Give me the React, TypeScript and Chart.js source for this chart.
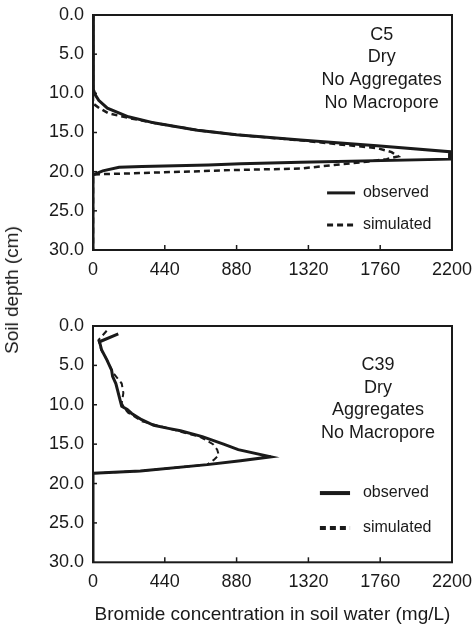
import React, { useEffect, useRef } from "react";
import { Chart, registerables } from "chart.js";

Chart.register(...registerables);

// ---------- data ----------
const xTicks = [0, 440, 880, 1320, 1760, 2200];
const yTicks = [0, 5, 10, 15, 20, 25, 30];

// Panel C5 (top)
const c5ObservedDepth = [0, 7.0, 8.5, 9.5, 10.2, 10.9, 11.9, 13.0, 13.8, 14.7, 15.3, 15.95, 16.7, 17.45, 18.4, 18.8, 19.0, 19.15, 19.35, 19.45, 19.9, 20.4, 30];
const c5ObservedConc = [0, 0, 2, 5, 14, 35, 88, 217, 380, 640, 880, 1272, 1740, 2185, 2185, 1272, 904, 707, 300, 160, 60, 0, 0];
const c5SimulatedDepth = [0, 10.0, 11.3, 11.9, 12.55, 13.2, 13.8, 14.7, 15.3, 16.0, 16.5, 17.0, 17.5, 18.05, 18.4, 18.7, 19.15, 19.6, 19.8, 19.95, 20.1, 20.25, 20.35, 30];
const c5SimulatedConc = [0, 0, 0, 40, 94, 230, 380, 640, 880, 1272, 1500, 1743, 1830, 1870, 1800, 1690, 1477, 1272, 843, 650, 400, 180, 0, 0];

// Panel C39 (bottom)
const c39ObservedDepth = [1.0, 2.0, 3.05, 4.3, 5.6, 6.4, 7.3, 8.1, 9.4, 10.2, 10.6, 11.1, 11.9, 12.6, 13.0, 13.3, 14.05, 15.0, 15.7, 16.6, 17.1, 17.6, 18.4, 18.7, 30];
const c39ObservedConc = [155, 40, 53, 85, 114, 120, 140, 150, 166, 176, 210, 237, 298, 372, 462, 536, 670, 800, 890, 1090, 904, 700, 290, 0, 0];
const c39SimulatedDepth = [0.6, 1.8, 3.0, 4.3, 6.0, 7.3, 8.5, 9.8, 10.5, 11.0, 11.5, 12.1, 13.0, 14.1, 15.0, 15.7, 16.4, 17.0, 17.6, 18.4, 18.7, 30];
const c39SimulatedConc = [84, 33, 50, 85, 125, 176, 186, 176, 195, 215, 255, 300, 462, 658, 735, 761, 771, 740, 700, 290, 0, 0];

const c5Labels = ["C5", "Dry", "No Aggregates", "No Macropore"];
const c39Labels = ["C39", "Dry", "Aggregates", "No Macropore"];
const legendLabels = ["observed", "simulated"];
const xTitle = "Bromide concentration in soil water (mg/L)";
const yTitle = "Soil depth (cm)";

// ---------- styling ----------
const FONT = '"Liberation Sans", Arial, Helvetica, sans-serif';
const INK = "#1a1a1a";

type Decor = {
  labels: string[];
  labelX: number;
  labelY: number[];
  legX0: number;
  legX1: number;
  legTextX: number;
  legY: number[];
  legWidth: number;
};

function decorPlugin(cfg: Decor) {
  return {
    id: "panelDecor",
    afterDatasetsDraw(chart: any) {
      const { ctx, chartArea: a, scales } = chart;
      const w = a.right - a.left;
      const h = a.bottom - a.top;
      ctx.save();
      ctx.strokeStyle = INK;
      ctx.lineWidth = 2;
      ctx.setLineDash([]);
      ctx.strokeRect(a.left, a.top, w, h);
      // inward ticks
      ctx.lineWidth = 1.5;
      xTicks.slice(1, -1).forEach((v) => {
        const px = scales.x.getPixelForValue(v);
        ctx.beginPath();
        ctx.moveTo(px, a.bottom);
        ctx.lineTo(px, a.bottom - 5);
        ctx.stroke();
      });
      yTicks.slice(1, -1).forEach((v) => {
        const py = scales.y.getPixelForValue(v);
        ctx.beginPath();
        ctx.moveTo(a.left, py);
        ctx.lineTo(a.left + 4, py);
        ctx.stroke();
      });
      // annotation
      ctx.fillStyle = INK;
      ctx.font = `18px ${FONT}`;
      ctx.textAlign = "center";
      ctx.textBaseline = "middle";
      cfg.labels.forEach((t, i) => {
        ctx.fillText(t, a.left + cfg.labelX * w, a.top + cfg.labelY[i] * h);
      });
      // legend
      ctx.font = `16px ${FONT}`;
      ctx.textAlign = "left";
      legendLabels.forEach((t, i) => {
        const y = a.top + cfg.legY[i] * h;
        ctx.beginPath();
        ctx.lineWidth = cfg.legWidth;
        ctx.setLineDash(i === 0 ? [] : [6, 4]);
        ctx.moveTo(a.left + cfg.legX0 * w, y);
        ctx.lineTo(a.left + cfg.legX1 * w, y);
        ctx.stroke();
        ctx.setLineDash([]);
        ctx.fillText(t, a.left + cfg.legTextX * w, y);
      });
      ctx.restore();
    },
  };
}

function toPoints(conc: number[], depth: number[]) {
  return conc.map((c, i) => ({ x: c, y: depth[i] }));
}

type PanelProps = {
  height: number;
  padTop: number;
  xAxisHeight: number;
  showTitle: boolean;
  obsConc: number[];
  obsDepth: number[];
  simConc: number[];
  simDepth: number[];
  decor: Decor;
  simWidth: number;
};

function Panel(p: PanelProps) {
  const ref = useRef<HTMLCanvasElement | null>(null);
  useEffect(() => {
    if (!ref.current) return;
    const tickFont = { family: FONT, size: 18 };
    const chart = new Chart(ref.current, {
      type: "line",
      data: {
        datasets: [
          {
            label: legendLabels[0],
            data: toPoints(p.obsConc, p.obsDepth),
            borderColor: INK,
            borderWidth: 3,
            pointRadius: 0,
            tension: 0,
            fill: false,
          },
          {
            label: legendLabels[1],
            data: toPoints(p.simConc, p.simDepth),
            borderColor: INK,
            borderWidth: p.simWidth,
            borderDash: [6, 4],
            pointRadius: 0,
            tension: 0,
            fill: false,
          },
        ],
      },
      options: {
        animation: false,
        responsive: false,
        maintainAspectRatio: false,
        layout: { padding: { top: p.padTop, right: 23, bottom: 0, left: 0 } },
        plugins: { legend: { display: false }, tooltip: { enabled: false } },
        scales: {
          x: {
            type: "linear",
            min: 0,
            max: 2200,
            afterBuildTicks: (s: any) => {
              s.ticks = xTicks.map((v) => ({ value: v }));
            },
            afterFit: (s: any) => {
              s.height = p.xAxisHeight;
              s.paddingLeft = 0;
              s.paddingRight = 0;
            },
            grid: { display: false, drawTicks: false },
            border: { display: false },
            ticks: {
              padding: 9,
              color: INK,
              font: tickFont,
              maxRotation: 0,
              autoSkip: false,
              callback: (v: any) => String(v),
            },
            title: {
              display: p.showTitle,
              text: xTitle,
              color: INK,
              font: { family: FONT, size: 19 },
              padding: { top: 0, bottom: 3 },
            },
          },
          y: {
            type: "linear",
            reverse: true,
            min: 0,
            max: 30,
            afterBuildTicks: (s: any) => {
              s.ticks = yTicks.map((v) => ({ value: v }));
            },
            afterFit: (s: any) => {
              s.width = 93;
              s.paddingTop = 0;
              s.paddingBottom = 0;
            },
            grid: { display: false, drawTicks: false },
            border: { display: false },
            ticks: {
              padding: 9,
              color: INK,
              font: tickFont,
              autoSkip: false,
              callback: (v: any) => Number(v).toFixed(1),
            },
          },
        },
      },
      plugins: [decorPlugin(p.decor)],
    } as any);
    return () => chart.destroy();
  }, []);
  return (
    <canvas
      ref={ref}
      width={475}
      height={p.height}
      style={{ display: "block", width: 475, height: p.height }}
    />
  );
}

export default function App() {
  return (
    <div
      style={{
        position: "absolute",
        left: 0,
        top: 0,
        width: 475,
        height: 629,
        background: "#fff",
        overflow: "hidden",
      }}
    >
      <Panel
        height={300}
        padTop={15}
        xAxisHeight={50}
        showTitle={false}
        obsConc={c5ObservedConc}
        obsDepth={c5ObservedDepth}
        simConc={c5SimulatedConc}
        simDepth={c5SimulatedDepth}
        simWidth={2.5}
        decor={{
          labels: c5Labels,
          labelX: 0.804,
          labelY: [0.085, 0.179, 0.277, 0.374],
          legX0: 0.652,
          legX1: 0.73,
          legTextX: 0.752,
          legY: [0.757, 0.894],
          legWidth: 3,
        }}
      />
      <Panel
        height={329}
        padTop={26}
        xAxisHeight={66.7}
        showTitle={true}
        obsConc={c39ObservedConc}
        obsDepth={c39ObservedDepth}
        simConc={c39SimulatedConc}
        simDepth={c39SimulatedDepth}
        simWidth={2}
        decor={{
          labels: c39Labels,
          labelX: 0.794,
          labelY: [0.165, 0.262, 0.355, 0.453],
          legX0: 0.632,
          legX1: 0.716,
          legTextX: 0.752,
          legY: [0.707, 0.855],
          legWidth: 4,
        }}
      />
      <div
        style={{
          position: "absolute",
          left: 12,
          top: 290,
          transform: "translate(-50%, -50%) rotate(-90deg)",
          whiteSpace: "nowrap",
          fontFamily: FONT,
          fontSize: 19,
          color: INK,
        }}
      >
        {yTitle}
      </div>
    </div>
  );
}
